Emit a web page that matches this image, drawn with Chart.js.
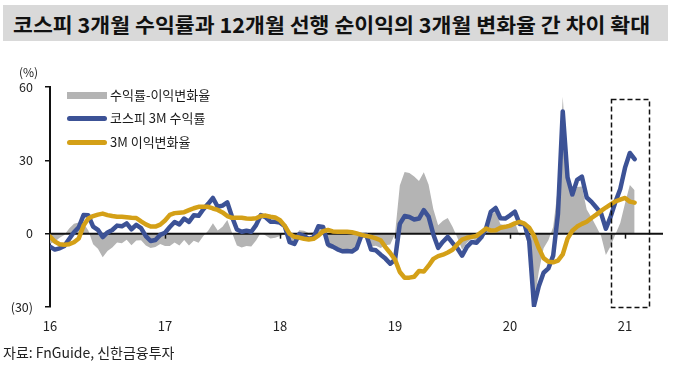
<!DOCTYPE html>
<html><head><meta charset="utf-8">
<script src="https://cdn.jsdelivr.net/npm/chart.js@4"></script>
<style>
html,body{margin:0;padding:0;background:#fff;}
body{width:673px;height:365px;position:relative;overflow:hidden;font-family:"Noto Sans CJK KR","Noto Sans",sans-serif;color:#111;}
#band{position:absolute;left:3px;top:5px;width:665px;height:36px;background:#d9d9d9;}
#titleText{position:absolute;left:10px;top:1px;line-height:36px;font-size:20.5px;font-weight:700;white-space:nowrap;transform-origin:left center;color:#111;}
#wrap{position:absolute;left:0;top:0;width:673px;height:365px;}
#unit{position:absolute;left:19px;top:64px;font-size:12px;line-height:16px;color:#222;}
#source{position:absolute;left:3px;top:342px;font-size:14px;line-height:20px;color:#222;}
.lgsw{position:absolute;left:67px;width:40px;}
.lgtx{position:absolute;left:110px;font-size:13px;line-height:18px;color:#1a1a1a;white-space:nowrap;}
</style></head>
<body>
<div id="band"><div id="titleText">코스피 3개월 수익률과 12개월 선행 순이익의 3개월 변화율 간 차이 확대</div></div>
<div id="wrap"><canvas id="c" width="673" height="365"></canvas></div>
<div id="unit">(%)</div>
<div id="source">자료: FnGuide, 신한금융투자</div>
<div class="lgsw" style="top:92px;height:7px;background:#b4b4b4;"></div>
<div class="lgtx" style="top:86px;">수익률-이익변화율</div>
<div class="lgsw" style="top:116px;height:5px;border-radius:3px;background:#3c5296;"></div>
<div class="lgtx" style="top:109px;">코스피 3M 수익률</div>
<div class="lgsw" style="top:140px;height:5px;border-radius:3px;background:#d4a017;"></div>
<div class="lgtx" style="top:133px;">3M 이익변화율</div>
<script>
// Series names
const seriesNames = ['수익률-이익변화율', '코스피 3M 수익률', '3M 이익변화율'];

// Semi-monthly observation dates: 2016-01-01 ... 2021-02-01 (1st and 16th of each month)
const startYear = 2016, endYear = 2021, endMonth = 2;
const dates = [];
for (let y = startYear; y <= endYear; y++) {
  for (let m = 1; m <= 12; m++) {
    if (y === endYear && m > endMonth) break;
    dates.push(y + '-' + String(m).padStart(2, '0') + '-01');
    if (!(y === endYear && m === endMonth)) dates.push(y + '-' + String(m).padStart(2, '0') + '-16');
  }
}

// KOSPI 3-month return (%)
const kospi3m = [
  -5.3,-6.5,-6,-5,-2.2,0.6,2.6,7.6,7.5,2.9,
  1.6,-1.4,0.5,1.5,3.3,3,4.2,1.8,3.6,2.3,
  -1,-3,-2.6,-0.5,0.4,2.7,4.8,3.8,6.2,4.8,
  7.5,7.3,10,12.2,14.6,11,11.5,12.8,6.8,1.7,
  0.8,1.2,0.8,3.5,7.6,6.7,4.9,4.9,4.5,3,
  -3.5,-4.2,-0.2,-0.9,-2.1,-1.5,3,2.7,-4.4,-5.3,
  -6.4,-7.2,-7.1,-7.3,-6,-0.6,-0.5,-6.5,-6.8,-8.6,
  -10.2,-12.3,-10.6,4,7.2,6.8,5.8,6.2,9.6,7,
  -0.3,-5.8,-3.3,-1.3,-3.8,-6,-9,-5.4,-3.4,-3.7,
  -1.5,2.2,9,10.5,6.3,6.2,7.5,9,4,4,
  -3,-29.5,-21.5,-16,-14.2,-9,8,50,23,16,
  22,23.3,14.8,13,10.7,8.3,2,7,13,18.3,
  27,33,30.5
];

// 12M forward net income, 3-month change (%)
const eps3m = [
  -1.2,-3.2,-4.3,-4.5,-4.3,-3.5,-2,3.3,6.2,7.2,
  7.8,8.2,7.6,7.2,6.9,6.9,6.7,6.5,6.4,5,
  3.8,2.9,2.9,3.7,5.4,7.7,8.4,8.6,8.8,9.6,
  10.4,11,11,11,10.3,9.7,8.7,7.2,6.5,6.5,
  6.5,6.2,6.1,6.3,7.2,7.4,6.9,6.6,5.5,3.2,
  -0.1,-1.3,-1.6,-2.1,-2.4,-2.1,-0.8,1,1.5,0.9,
  0.8,0.8,0.8,0.6,0.1,-0.5,-0.9,-1.3,-1.9,-2.7,
  -5.5,-7.9,-10.6,-15.7,-18,-18,-17.6,-15.3,-15.5,-13.1,
  -10.3,-9.2,-8.6,-7.7,-6.6,-4.4,-2.4,-1.7,-1.3,-0.9,
  0.6,2.1,1.3,1.4,2.4,2.8,3.3,4.2,4.8,4.1,
  2.4,-0.8,-5.9,-10,-11.5,-11.7,-11,-8.5,-2,1.2,
  2.9,4,4.9,6.4,7.8,9.3,10.7,12,13.2,13.9,
  14.6,13.1,12.7
];

// Gap: return minus earnings change (%p)
const gap = [
  -4.1,-3.3,-1.7,-0.5,2.1,4.1,4.6,4.3,1.3,-4.3,
  -6.2,-9.6,-7.1,-5.7,-3.6,-3.9,-2.5,-4.7,-2.8,-2.7,
  -4.8,-5.9,-5.5,-4.2,-5,-5,-3.6,-4.8,-2.6,-4.8,
  -2.9,-3.7,-1,1.2,4.3,1.3,2.8,5.6,0.3,-4.8,
  -5.7,-5,-5.3,-2.8,0.4,-0.7,-2,-1.7,-1,-0.2,
  -3.4,-2.9,1.4,1.2,0.3,0.6,3.8,1.7,-5.9,-6.2,
  -7.2,-8,-7.9,-7.9,-6.1,-0.1,0.4,-5.2,-4.9,-5.9,
  -4.7,-4.4,0,19.7,25.2,24.8,23.4,21.5,25.1,20.1,
  10,3.4,5.3,6.4,2.8,-1.6,-6.6,-3.7,-2.1,-2.8,
  -2.1,0.1,7.7,9.1,3.9,3.4,4.2,4.8,-0.8,-0.1,
  -5.4,-28.7,-15.6,-6,-2.7,2.7,19,56,25,14.8,
  19.1,19.3,9.9,6.6,2.9,-1,-8.7,-5,-0.2,4.4,
  12.4,19.9,17.8
];

// Axis ticks
const yearTicks = [2016, 2017, 2018, 2019, 2020, 2021];
const yearLabels = ['16', '17', '18', '19', '20', '21'];
const yTicks = [-30, 0, 30, 60];

// Highlighted period (dashed box), in data units
const highlightX = [2020.88, 2021.21];
const highlightY = [-30, 55];

function toYearFrac(d) {
  const [y, m, day] = d.split('-').map(Number);
  return y + (m - 1) / 12 + (day > 1 ? 1 / 24 : 0);
}
const xs = dates.map(toYearFrac);
const pts = arr => arr.map((v, i) => ({ x: xs[i], y: v }));

const FONT = '"Noto Sans CJK KR","Noto Sans",sans-serif';

const overlay = {
  id: 'overlay',
  afterDatasetDraw(chart, args) {
    if (args.index !== 0) return;
    const { ctx, chartArea, scales } = chart;
    const y0 = scales.y.getPixelForValue(0);
    ctx.save();
    ctx.strokeStyle = '#111';
    ctx.lineWidth = 2;
    ctx.beginPath();
    ctx.moveTo(chartArea.left, y0);
    ctx.lineTo(chartArea.right, y0);
    ctx.stroke();
    ctx.lineWidth = 1.5;
    yearTicks.slice(1).forEach(v => {
      const x = Math.round(scales.x.getPixelForValue(v)) + 0.5;
      ctx.beginPath();
      ctx.moveTo(x, y0);
      ctx.lineTo(x, y0 + 5);
      ctx.stroke();
    });
    ctx.restore();
  },
  afterDatasetsDraw(chart) {
    const { ctx, scales } = chart;
    const x1 = scales.x.getPixelForValue(highlightX[0]);
    const x2 = scales.x.getPixelForValue(highlightX[1]);
    const y1 = scales.y.getPixelForValue(highlightY[1]);
    const y2 = scales.y.getPixelForValue(highlightY[0]);
    ctx.save();
    ctx.strokeStyle = '#111';
    ctx.lineWidth = 1.5;
    ctx.setLineDash([5, 3]);
    ctx.strokeRect(Math.round(x1) + 0.5, Math.round(y1) + 0.5, Math.round(x2 - x1), Math.round(y2 - y1));
    ctx.restore();
  }
};

new Chart(document.getElementById('c'), {
  type: 'line',
  data: {
    datasets: [
      { label: seriesNames[0], data: pts(gap), fill: 'origin', backgroundColor: '#b4b4b4',
        borderWidth: 0, borderColor: 'rgba(0,0,0,0)', pointRadius: 0, tension: 0, order: 3 },
      { label: seriesNames[1], data: pts(kospi3m), fill: false, borderColor: '#3c5296',
        borderWidth: 4.5, pointRadius: 0, tension: 0, order: 2, borderJoinStyle: 'round', borderCapStyle: 'round' },
      { label: seriesNames[2], data: pts(eps3m), fill: false, borderColor: '#d4a017',
        borderWidth: 4.5, pointRadius: 0, tension: 0, order: 1, borderJoinStyle: 'round', borderCapStyle: 'round' }
    ]
  },
  options: {
    responsive: false,
    animation: false,
    events: [],
    layout: { padding: { left: 0, right: 10, top: 87, bottom: 0 } },
    plugins: { legend: { display: false }, tooltip: { enabled: false } },
    scales: {
      x: {
        type: 'linear', min: 2016, max: 2021.33,
        afterBuildTicks(s) { s.ticks = yearTicks.map(v => ({ value: v })); },
        ticks: {
          autoSkip: false, maxRotation: 0, padding: 11, color: '#222',
          font: { family: FONT, size: 13 },
          callback: v => { const i = yearTicks.indexOf(v); return i >= 0 ? yearLabels[i] : ''; }
        },
        grid: { display: false, drawTicks: false },
        border: { display: false },
        afterFit(s) { s.height = 58; }
      },
      y: {
        min: -30, max: 60,
        afterBuildTicks(s) { s.ticks = yTicks.map(v => ({ value: v })); },
        ticks: {
          padding: 12, color: '#222', font: { family: FONT, size: 12.5 },
          callback: v => v < 0 ? '(' + (-v) + ')' : String(v)
        },
        grid: { drawOnChartArea: false, drawTicks: true, tickLength: 5, color: '#111', lineWidth: 1.5 },
        border: { display: true, color: '#111', width: 2 },
        afterFit(s) { s.width = 50; }
      }
    }
  },
  plugins: [overlay]
});

// fit title to its original width
const tt = document.getElementById('titleText');
const w = tt.offsetWidth;
tt.style.transform = 'scaleX(' + (637 / w) + ')';
</script>
</body></html>
